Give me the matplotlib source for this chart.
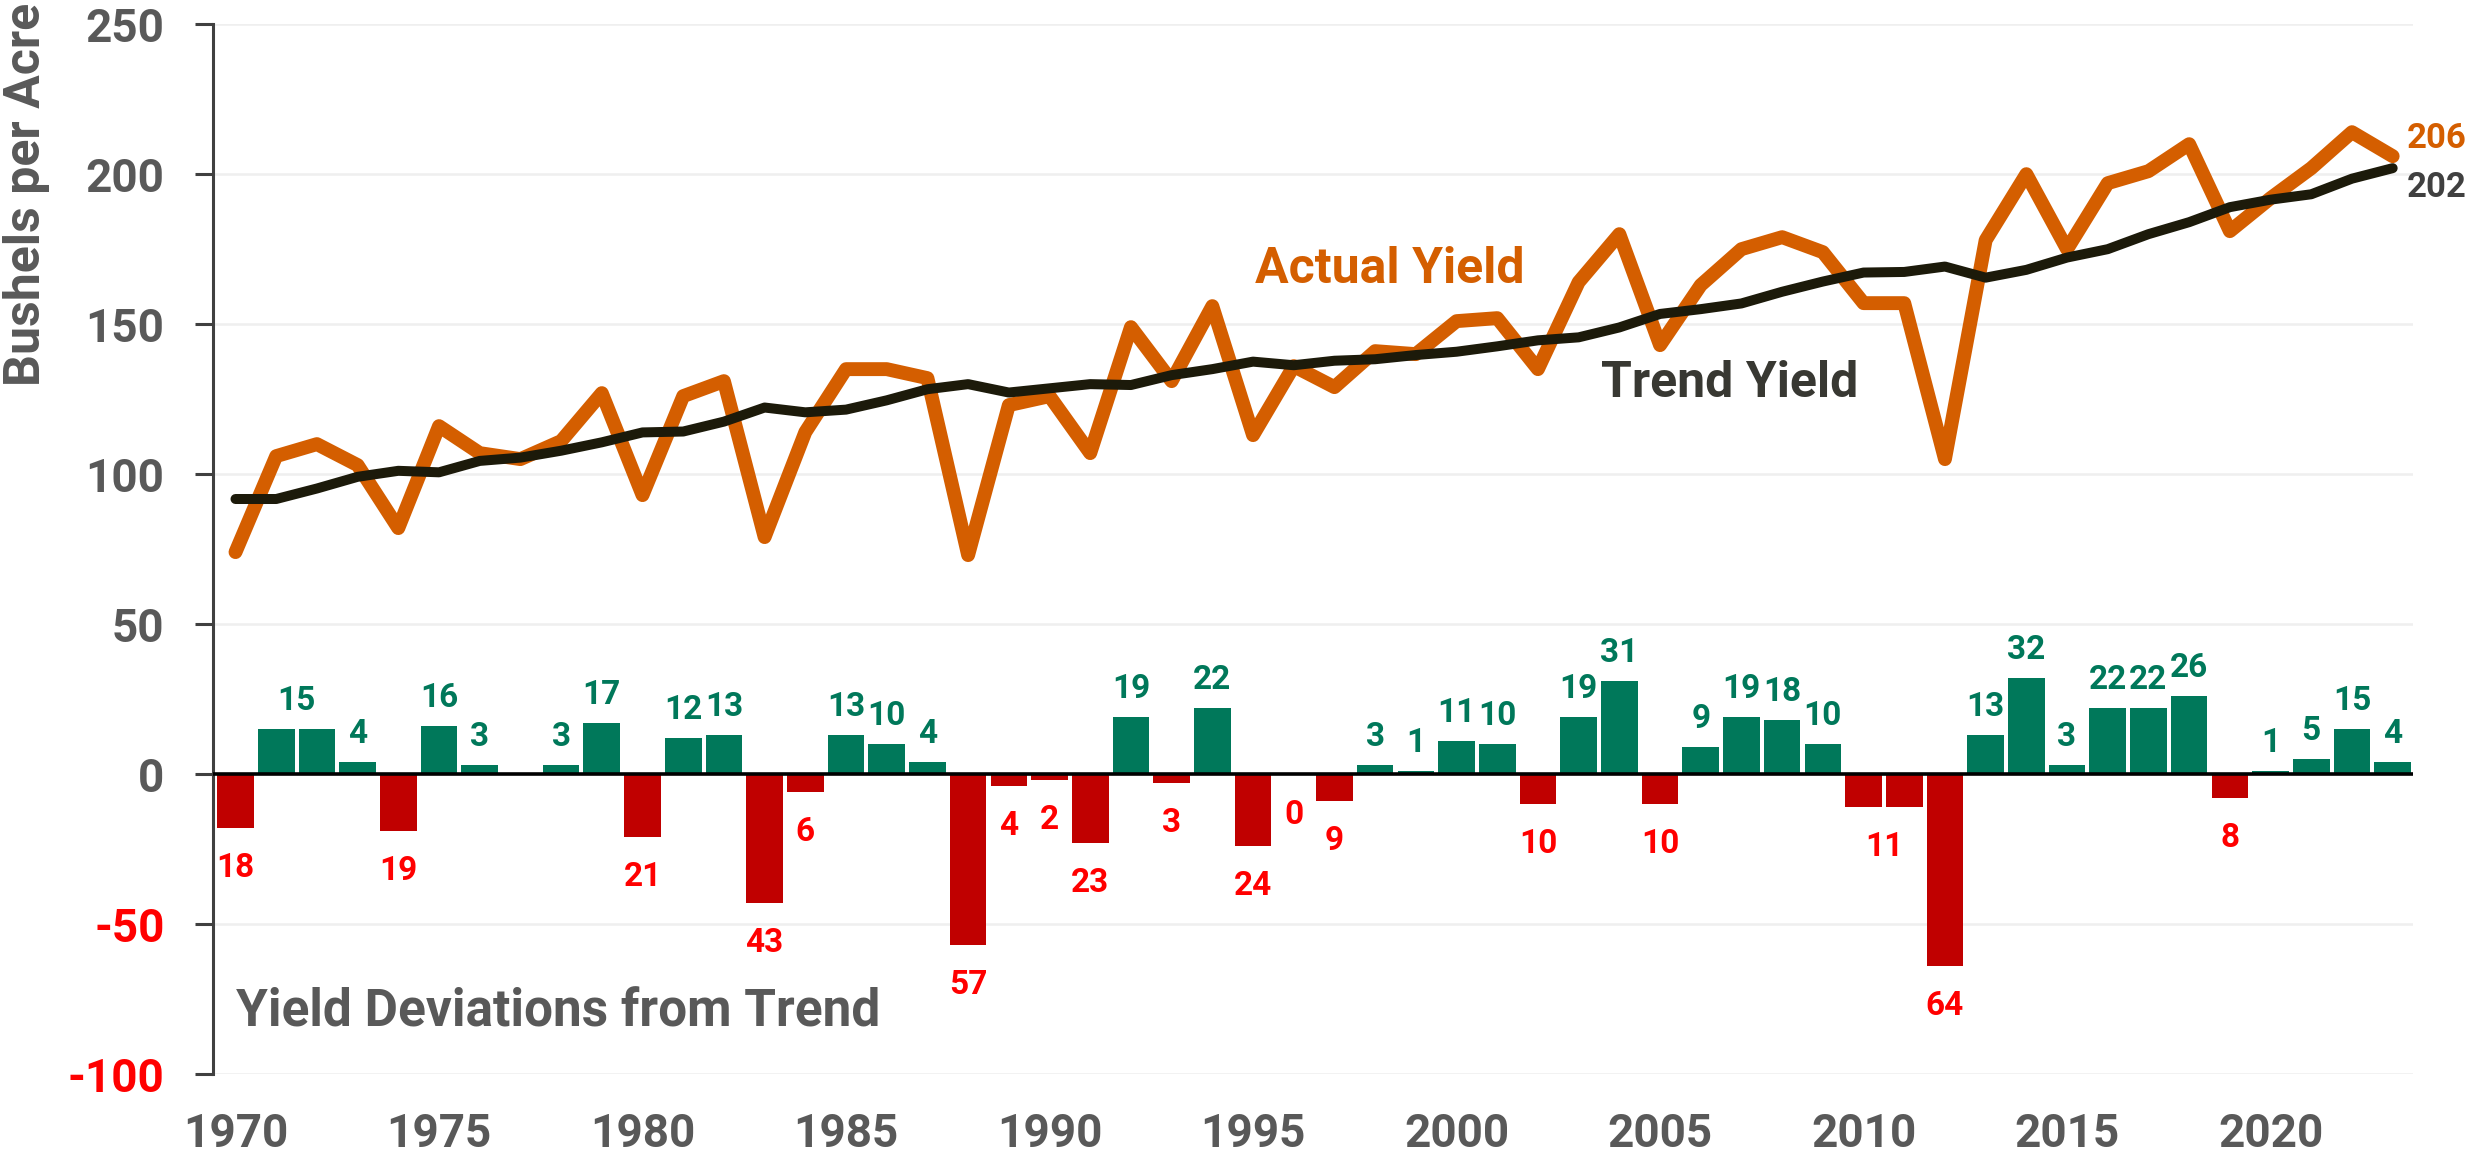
import matplotlib.pyplot as plt

# Illinois corn yield, actual vs trend, with deviations
years = list(range(1970, 2024))

actual_yield = [74, 106, 110, 103, 82, 116, 107, 105, 111, 127,
                93, 126, 131, 79, 114, 135, 135, 132, 73, 123,
                126, 107, 149, 131, 156, 113, 136, 129, 141, 140,
                151, 152, 135, 164, 180, 143, 163, 175, 179, 174,
                157, 157, 105, 178, 200, 175, 197, 201, 210, 181,
                192, 202, 214, 206]

trend_yield = [91.7, 91.7, 95.2, 99.1, 101.1, 100.6, 104.4, 105.5, 107.8, 110.6,
               113.9, 114.2, 117.5, 122.2, 120.6, 121.5, 124.6, 128.3, 130.0, 127.2,
               128.6, 130.0, 129.7, 133.0, 135.0, 137.5, 136.3, 137.8, 138.3, 139.7,
               140.8, 142.6, 144.6, 145.6, 148.9, 153.4, 155.0, 156.9, 160.8, 164.2,
               167.2, 167.4, 169.2, 165.5, 168.1, 172.2, 175.0, 180.0, 184.0, 189.0,
               191.5, 193.3, 198.5, 202.0]

deviation = [-18, 15, 15, 4, -19, 16, 3, 0, 3, 17,
             -21, 12, 13, -43, -6, 13, 10, 4, -57, -4,
             -2, -23, 19, -3, 22, -24, -0.3, -9, 3, 1,
             11, 10, -10, 19, 31, -10, 9, 19, 18, 10,
             -11, -11, -64, 13, 32, 3, 22, 22, 26, -8,
             1, 5, 15, 4]

# pairs of years sharing a single label, years without label
merged_labels = [(1971, 1972), (2010, 2011)]
unlabeled_years = [1977]

y_ticks = [-100, -50, 0, 50, 100, 150, 200, 250]
x_ticks = list(range(1970, 2021, 5))

orange = '#d45e00'
trend_color = '#1c1a0a'
green = '#00785a'
red_bar = '#c00000'
red_text = '#ff0000'
gray = '#595959'

plt.rcParams['font.family'] = ['Roboto', 'DejaVu Sans']
plt.rcParams['font.weight'] = 'bold'
plt.rcParams['axes.unicode_minus'] = False

fig = plt.figure(figsize=(24.81, 11.52), dpi=100)
ax = fig.add_axes([0.0859, 0.0677, 0.8867, 0.9113])

bar_colors = [green if v > 0 else red_bar for v in deviation]
ax.bar(years, deviation, width=0.9, color=bar_colors, zorder=2)
ax.axhline(0, color='black', lw=2.6, zorder=3)

ax.plot(years, actual_yield, color=orange, lw=10,
        solid_capstyle='round', solid_joinstyle='round', zorder=4)
ax.plot(years, trend_yield, color=trend_color, lw=7.2,
        solid_capstyle='round', solid_joinstyle='round', zorder=5)

# deviation labels
skip = set(unlabeled_years) | {b for a, b in merged_labels}
shift = {a: (b - a) / 2 for a, b in merged_labels}
for yr, v in zip(years, deviation):
    if yr in skip:
        continue
    x = yr + shift.get(yr, 0)
    if v > 0:
        ax.annotate(f"{abs(v):.0f}", (x, v), xytext=(0, 14), textcoords='offset points',
                    ha='center', va='baseline', fontsize=24, color=green)
    else:
        ax.annotate(f"{abs(v):.0f}", (x, v), xytext=(0, -17), textcoords='offset points',
                    ha='center', va='top', fontsize=24, color=red_text)

# end labels
ax.annotate(f"{actual_yield[-1]:.0f}", (years[-1], actual_yield[-1]), xytext=(10, 6),
            textcoords='offset points', ha='left', va='baseline', fontsize=25,
            color=orange, annotation_clip=False)
ax.annotate(f"{trend_yield[-1]:.0f}", (years[-1], trend_yield[-1]), xytext=(10, -21),
            textcoords='offset points', ha='left', va='baseline', fontsize=25,
            color='#404040', annotation_clip=False)

ax.text(1998.35, 163.7, "Actual Yield", ha='center', va='baseline', fontsize=36, color=orange)
ax.text(2006.7, 125.7, "Trend Yield", ha='center', va='baseline', fontsize=36, color='#383832')
ax.text(1970, -84.2, "Yield Deviations from Trend", ha='left', va='baseline',
        fontsize=37, color=gray)

ax.text(-0.085, 0.838, "Bushels per Acre", transform=ax.transAxes, rotation=90,
        ha='center', va='center', fontsize=36, color=gray)

ax.set_xlim(1969.45, 2023.5)
ax.set_ylim(-100, 250)
ax.set_yticks(y_ticks)
ax.set_yticklabels([str(t) for t in y_ticks])
ax.set_xticks(x_ticks)
ax.grid(axis='y', color='#efefef', lw=1.8, zorder=0)
ax.set_axisbelow(True)

for s in ['top', 'right', 'bottom']:
    ax.spines[s].set_visible(False)
ax.spines['left'].set_color('#404040')
ax.spines['left'].set_linewidth(2.2)

ax.tick_params(axis='y', length=13, width=2.2, color='#404040', labelsize=33,
               labelcolor=gray, pad=22)
ax.tick_params(axis='x', length=0, labelsize=33, labelcolor=gray, pad=27)
for t, lab in zip(y_ticks, ax.get_yticklabels()):
    if t < 0:
        lab.set_color(red_text)

fig.savefig("out.png", dpi=100)
